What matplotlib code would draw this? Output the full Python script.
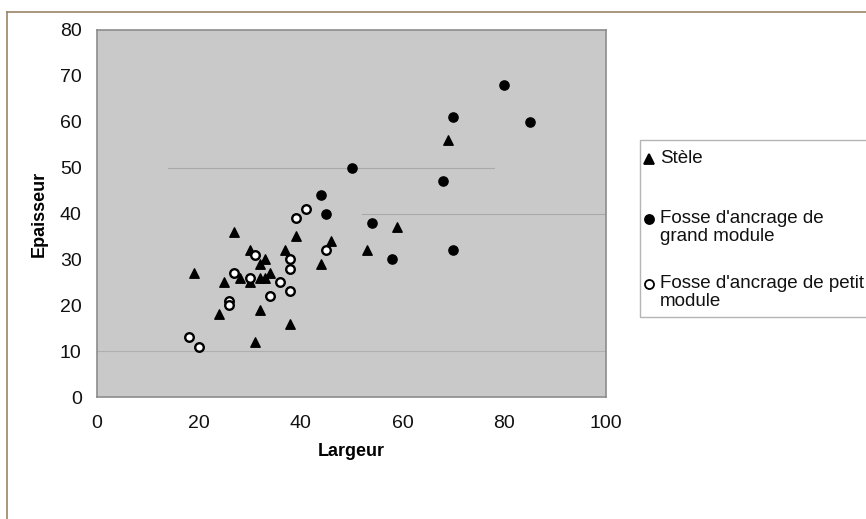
import matplotlib
matplotlib.use("Agg")
import matplotlib.pyplot as plt
from matplotlib.lines import Line2D
from matplotlib.patches import Rectangle

plt.rcParams["font.family"] = ["Liberation Sans", "DejaVu Sans"]

# Stèle
stele_x = [19, 27, 25, 30, 33, 32, 28, 30, 32, 33, 34, 24, 32, 38, 31, 37, 39, 44, 46, 69, 59, 53]
stele_y = [27, 36, 25, 32, 30, 29, 26, 25, 26, 26, 27, 18, 19, 16, 12, 32, 35, 29, 34, 56, 37, 32]

# Fosse d'ancrage de grand module
grand_x = [80, 70, 85, 50, 68, 44, 45, 54, 58, 70]
grand_y = [68, 61, 60, 50, 47, 44, 40, 38, 30, 32]

# Fosse d'ancrage de petit module
petit_x = [41, 39, 38, 38, 38, 36, 45, 34, 31, 27, 30, 26, 26, 18, 20]
petit_y = [41, 39, 30, 28, 23, 25, 32, 22, 31, 27, 26, 21, 20, 13, 11]

labels = ["Stèle", "Fosse d'ancrage de\ngrand module", "Fosse d'ancrage de petit\nmodule"]

W, H = 866, 519
fig = plt.figure(figsize=(W / 100, H / 100), dpi=100)
fig.patch.set_facecolor("white")

ax = fig.add_axes([97 / W, 1 - 397 / H, (606 - 97) / W, (397 - 30) / H])
ax.set_facecolor("#c9c9c9")
for s in ax.spines.values():
    s.set_color("#8c8c8c")
    s.set_linewidth(1.2)

# faint scanned grid remnants
ax.axhline(50, xmin=0.14, xmax=0.78, color="#a9a9a9", lw=0.8, zorder=1)
ax.axhline(40, xmin=0.52, xmax=1.0, color="#a9a9a9", lw=0.8, zorder=1)
ax.axhline(10, xmin=0.0, xmax=1.0, color="#b0b0b0", lw=0.8, zorder=1)

ax.scatter(stele_x, stele_y, marker="^", s=46, color="black", zorder=3)
ax.scatter(grand_x, grand_y, marker="o", s=44, color="black", zorder=3)
ax.scatter(petit_x, petit_y, marker="o", s=38, facecolor="white",
           edgecolor="black", linewidth=1.7, zorder=4)

ax.set_xlim(0, 100)
ax.set_ylim(0, 80)
ax.set_xticks(range(0, 101, 20))
ax.set_yticks(range(0, 81, 10))
ax.tick_params(length=0, labelsize=14, colors="#111111")
ax.tick_params(axis="x", pad=13)
ax.tick_params(axis="y", pad=11)
ax.set_xlabel("Largeur", fontsize=13, fontweight="bold", labelpad=8)
ax.set_ylabel("Epaisseur", fontsize=13, fontweight="bold", labelpad=9)

# legend box
fig.patches.append(Rectangle((640 / W, 1 - 317 / H), (W - 640) / W + 0.05, 177 / H,
                             transform=fig.transFigure, facecolor="white",
                             edgecolor="#b5b5b5", lw=1.0, zorder=1))
entries = [("^", "black", 159), ("o", "black", 219), ("o", "white", 284)]
for (m, fc, yy), lab in zip(entries, labels):
    fig.add_artist(Line2D([649 / W], [1 - yy / H], marker=m, markersize=6.5,
                          markerfacecolor=fc, markeredgecolor="black",
                          markeredgewidth=1.3, linestyle="none",
                          transform=fig.transFigure))
    fig.text(660 / W, 1 - (yy - 9) / H, lab, fontsize=13.5, va="top",
             ha="left", linespacing=1.05, color="#111111")

# frame of the figure (left and top edges)
fig.add_artist(Line2D([7 / W, 7 / W], [0, 1 - 12 / H], color="#9a8565", lw=1.2,
                      transform=fig.transFigure))
fig.add_artist(Line2D([7 / W, 1], [1 - 12 / H, 1 - 12 / H], color="#9a8565", lw=1.2,
                      transform=fig.transFigure))

fig.savefig("out.png", dpi=100)
